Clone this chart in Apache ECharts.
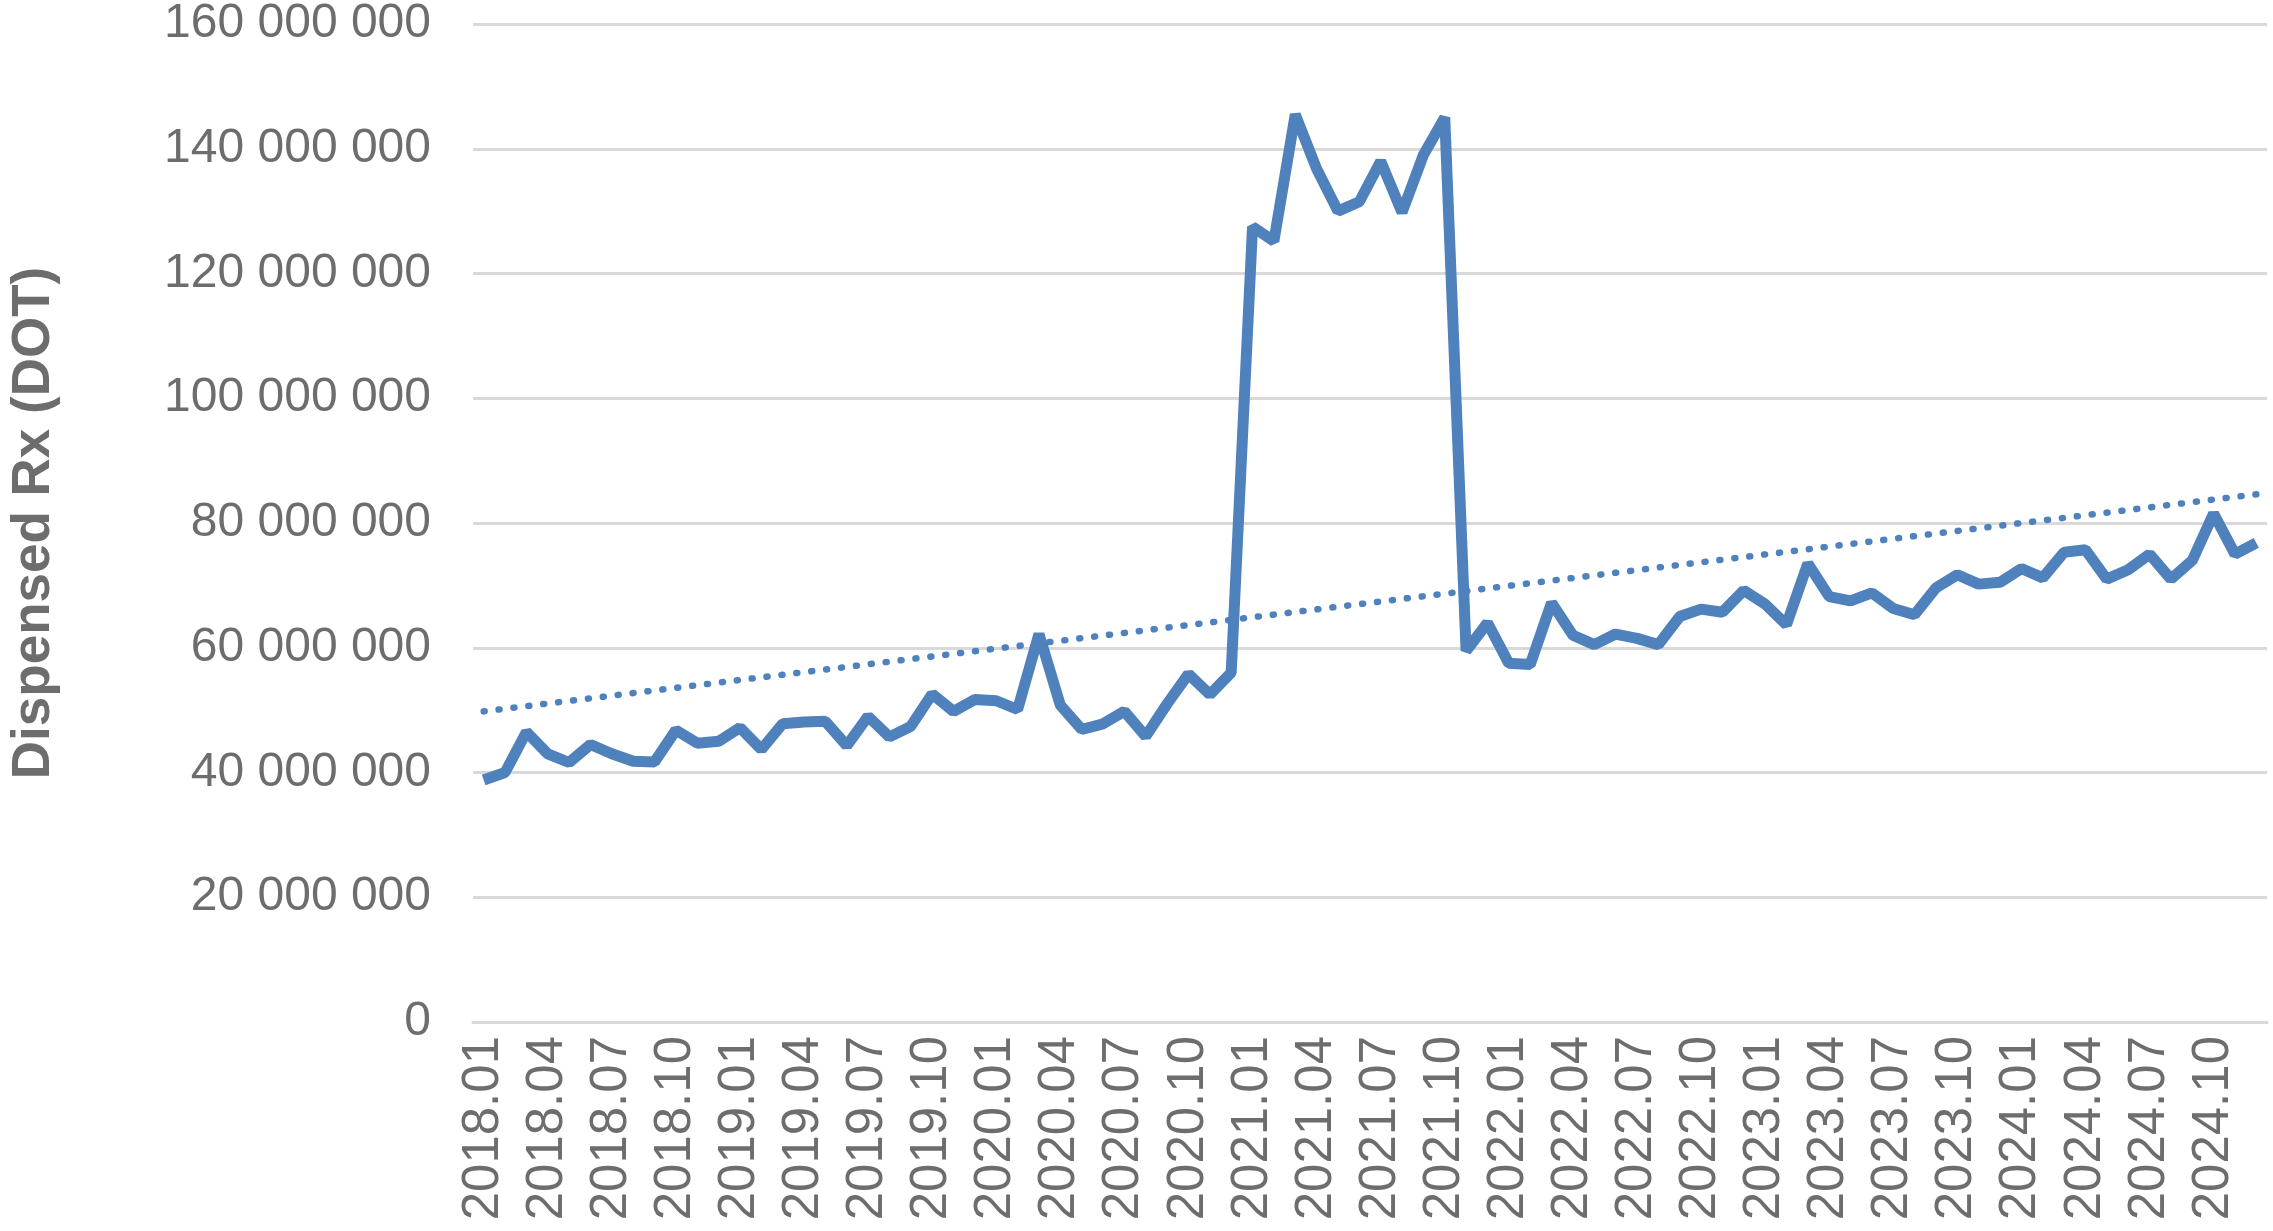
<!DOCTYPE html>
<html>
<head>
<meta charset="utf-8">
<script src="https://cdn.jsdelivr.net/npm/echarts@6/dist/echarts.min.js"></script>
<style>html,body{margin:0;padding:0;background:#fff}#chart{width:2273px;height:1231px}</style>
</head>
<body>
<div id="chart"></div>
<script>
var months = [];
var years = ['2018','2019','2020','2021','2022','2023','2024'];
for (var y = 0; y < years.length; y++) {
    for (var m = 1; m <= 12; m++) {
        months.push(years[y] + '.' + (m < 10 ? '0' + m : m));
    }
}
// millions of DOT
var dispensed = [
    38.8, 40, 46.5, 43, 41.6, 44.5, 43, 41.8, 41.7, 46.8, 44.7, 45,
    47.2, 43.7, 47.8, 48.1, 48.2, 44.3, 49, 45.7, 47.4, 52.6, 49.8, 51.7,
    51.5, 50.1, 62.2, 50.8, 46.9, 47.8, 49.8, 45.8, 51, 55.8, 52.5, 56,
    127.5, 125.2, 145.5, 136.8, 130, 131.5, 138, 129.8, 139, 145, 59.5, 64,
    57.5, 57.3, 67.2, 62, 60.5, 62.2, 61.5, 60.5, 65, 66.2, 65.7, 69.2,
    67, 63.7, 73.5, 68.2, 67.5, 68.8, 66.3, 65.3, 69.6, 71.7, 70.2, 70.5,
    72.7, 71.2, 75.3, 75.7, 71, 72.5, 75, 71, 74, 81.5, 75, 76.8
];
var trendStart = 49.8;
var trendEnd = 84.6;

var chart = echarts.init(document.getElementById('chart'));
var grey = '#6d6d6d';
var option = {
    animation: false,
    grid: { left: 442, right: 6, top: 23, bottom: 209 },
    xAxis: {
        type: 'category',
        data: months,
        boundaryGap: true,
        axisLine: { lineStyle: { color: '#d9d9d9', width: 3 } },
        axisTick: { show: false },
        axisLabel: {
            interval: 2, rotate: 90, color: grey, fontSize: 51,
            fontFamily: 'Liberation Sans, Arial', margin: 14
        }
    },
    yAxis: {
        type: 'value',
        min: 0, max: 160000000, interval: 20000000,
        name: 'Dispensed Rx (DOT)',
        nameLocation: 'middle',
        nameGap: 412,
        nameTextStyle: { color: grey, fontSize: 53, fontWeight: 'bold', fontFamily: 'Liberation Sans, Arial' },
        axisLine: { show: false },
        axisTick: { show: false },
        splitLine: { lineStyle: { color: '#d9d9d9', width: 3 } },
        axisLabel: {
            color: grey, fontSize: 48, fontFamily: 'Liberation Sans, Arial', margin: 42,
            formatter: function (v) { return v === 0 ? '0' : String(v).replace(/\B(?=(\d{3})+(?!\d))/g, ' '); }
        }
    },
    series: [{
        type: 'line',
        data: dispensed.map(function (v) { return v * 1e6; }),
        symbol: 'none',
        lineStyle: { color: '#4f81bd', width: 11 },
        markLine: {
            silent: true,
            symbol: 'none',
            label: { show: false },
            lineStyle: { color: '#4f81bd', width: 6.5, type: [1, 14], cap: 'round' },
            data: [[
                { coord: [months[0], trendStart * 1e6] },
                { coord: [months[months.length - 1], trendEnd * 1e6] }
            ]]
        }
    }]
};
chart.setOption(option);
</script>
</body>
</html>
